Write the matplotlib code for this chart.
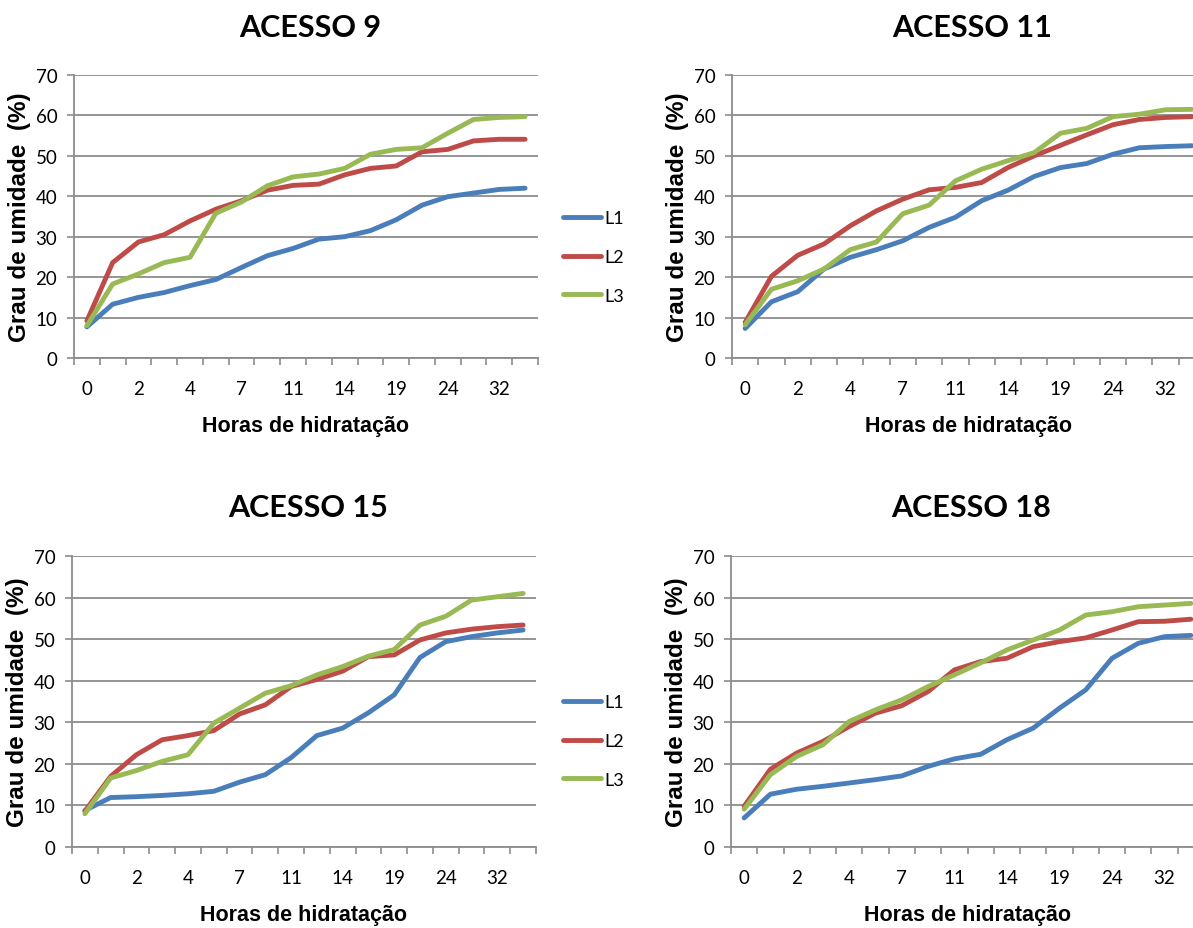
import matplotlib
matplotlib.use("Agg")
import matplotlib.pyplot as plt
import numpy as np
from matplotlib.ticker import FixedLocator, NullFormatter, FixedFormatter

# ---------------- data ----------------
hours = ["0", "1", "2", "3", "4", "5", "7", "9", "11", "12", "14", "16",
         "19", "21", "24", "28", "32", "36"]
series_names = ["L1", "L2", "L3"]

titles = ["ACESSO 9", "ACESSO 11", "ACESSO 15", "ACESSO 18"]

a9_L1 = [7.7, 13.3, 15.0, 16.2, 17.9, 19.4, 22.4, 25.3, 27.1, 29.4, 30.0, 31.5, 34.2, 37.8, 39.9, 40.8, 41.7, 42.0]
a9_L2 = [9.2, 23.6, 28.7, 30.5, 33.9, 36.8, 38.9, 41.5, 42.7, 43.0, 45.3, 46.9, 47.5, 51.0, 51.6, 53.7, 54.1, 54.1]
a9_L3 = [8.0, 18.3, 20.8, 23.6, 24.9, 35.8, 38.6, 42.6, 44.8, 45.5, 46.9, 50.4, 51.6, 52.0, 55.6, 59.0, 59.5, 59.7]

a11_L1 = [7.3, 13.9, 16.4, 22.0, 24.9, 26.8, 29.0, 32.3, 34.8, 38.9, 41.5, 44.9, 47.1, 48.1, 50.4, 52.0, 52.3, 52.5]
a11_L2 = [8.8, 20.2, 25.4, 28.2, 32.7, 36.4, 39.3, 41.6, 42.2, 43.4, 47.1, 50.0, 52.6, 55.2, 57.7, 59.0, 59.5, 59.7]
a11_L3 = [8.2, 17.0, 19.1, 22.0, 26.8, 28.7, 35.7, 37.8, 43.8, 46.7, 48.8, 50.8, 55.6, 56.8, 59.7, 60.3, 61.4, 61.5]

a15_L1 = [8.8, 11.9, 12.1, 12.4, 12.8, 13.4, 15.6, 17.4, 21.5, 26.8, 28.6, 32.3, 36.6, 45.6, 49.4, 50.6, 51.5, 52.2]
a15_L2 = [8.6, 17.0, 22.2, 25.8, 26.8, 28.0, 32.0, 34.2, 38.6, 40.3, 42.3, 45.8, 46.2, 49.8, 51.5, 52.4, 53.0, 53.4]
a15_L3 = [8.0, 16.6, 18.4, 20.6, 22.2, 29.8, 33.4, 37.0, 38.8, 41.4, 43.4, 45.9, 47.5, 53.4, 55.5, 59.4, 60.2, 61.0]

a18_L1 = [7.0, 12.7, 13.9, 14.6, 15.4, 16.2, 17.1, 19.4, 21.2, 22.3, 25.8, 28.6, 33.4, 37.8, 45.4, 49.0, 50.6, 50.9]
a18_L2 = [9.8, 18.7, 22.6, 25.4, 29.0, 32.2, 34.0, 37.4, 42.6, 44.6, 45.4, 48.2, 49.4, 50.3, 52.2, 54.2, 54.3, 54.8]
a18_L3 = [9.1, 17.4, 21.8, 24.6, 30.2, 33.0, 35.4, 38.6, 41.4, 44.3, 47.4, 49.8, 52.2, 55.8, 56.6, 57.8, 58.2, 58.6]

panels = [
    (a9_L1, a9_L2, a9_L3),
    (a11_L1, a11_L2, a11_L3),
    (a15_L1, a15_L2, a15_L3),
    (a18_L1, a18_L2, a18_L3),
]

# ---------------- style ----------------
W, H = 1193, 929
colors = ["#4A7EBB", "#BE4B48", "#98B954"]
grid_c = "#8C8C8C"
tick_font = ["Lato", "DejaVu Sans"]
title_font = ["Lato", "DejaVu Sans"]
xlab_font = ["Liberation Sans Narrow", "Liberation Sans", "DejaVu Sans"]
ylab_font = ["Liberation Sans", "DejaVu Sans"]

fig = plt.figure(figsize=(W / 100, H / 100), dpi=100)

# pixel boxes: left, right, top, bottom
boxes = [
    (74, 538, 76, 359),
    (732, 1205, 76, 359),
    (72, 536, 557, 848),
    (731, 1204, 557, 848),
]
title_y = [28, 28, 508, 508]
legend_cy = [258, None, 742, None]

x = np.arange(len(hours))

for i, (vals, box, ttl) in enumerate(zip(panels, boxes, titles)):
    l, r, t, b = box
    ax = fig.add_axes([l / W, 1 - b / H, (r - l) / W, (b - t) / H])
    lines = []
    for v, c, nm in zip(vals, colors, series_names):
        ln, = ax.plot(x, v, color=c, lw=3.5, solid_capstyle="round",
                      solid_joinstyle="round", label=nm, zorder=3)
        lines.append(ln)
    ax.set_xlim(-0.5, len(hours) - 0.5)
    ax.set_ylim(0, 70)
    ax.set_yticks(np.arange(0, 71, 10))
    ax.yaxis.grid(True, color=grid_c, lw=1.3)
    ax.set_axisbelow(True)
    for s in ["top", "right"]:
        ax.spines[s].set_visible(False)
    for s in ["left", "bottom"]:
        ax.spines[s].set_color(grid_c)
        ax.spines[s].set_linewidth(1.3)
    # category boundaries as major ticks, labels as minor ticks
    ax.xaxis.set_major_locator(FixedLocator(np.arange(-0.5, len(hours), 1)))
    ax.xaxis.set_major_formatter(NullFormatter())
    lab_pos = x[::2]
    ax.xaxis.set_minor_locator(FixedLocator(lab_pos))
    ax.xaxis.set_minor_formatter(FixedFormatter([hours[k] for k in lab_pos]))
    ax.tick_params(axis="x", which="major", direction="out", length=5,
                   width=1.2, color=grid_c)
    ax.tick_params(axis="x", which="minor", length=0, pad=16, labelsize=13.5)
    ax.tick_params(axis="y", direction="out", length=5, width=1.2,
                   color=grid_c, pad=7, labelsize=13.5)
    for lab in ax.get_xticklabels(minor=True) + ax.get_yticklabels():
        lab.set_fontfamily(tick_font)
    ax.set_xlabel("Horas de hidratação", fontsize=15.5, fontweight="bold",
                  family=xlab_font, labelpad=13)
    ax.set_ylabel("Grau de umidade  (%)", fontsize=17.5, fontweight="bold",
                  family=ylab_font, labelpad=3)
    fig.text(((l + r) / 2 + 4) / W, 1 - title_y[i] / H, ttl, ha="center",
             va="center", fontsize=22, fontweight="bold", family=title_font)
    if legend_cy[i] is not None:
        ax.legend(handles=lines, loc="center left",
                  bbox_to_anchor=(563 / W, 1 - legend_cy[i] / H),
                  bbox_transform=fig.transFigure, frameon=False,
                  borderpad=0, borderaxespad=0, handlelength=2.1,
                  handletextpad=0.2, labelspacing=1.25,
                  prop={"family": tick_font, "size": 13})

fig.savefig("out.png", dpi=100)
